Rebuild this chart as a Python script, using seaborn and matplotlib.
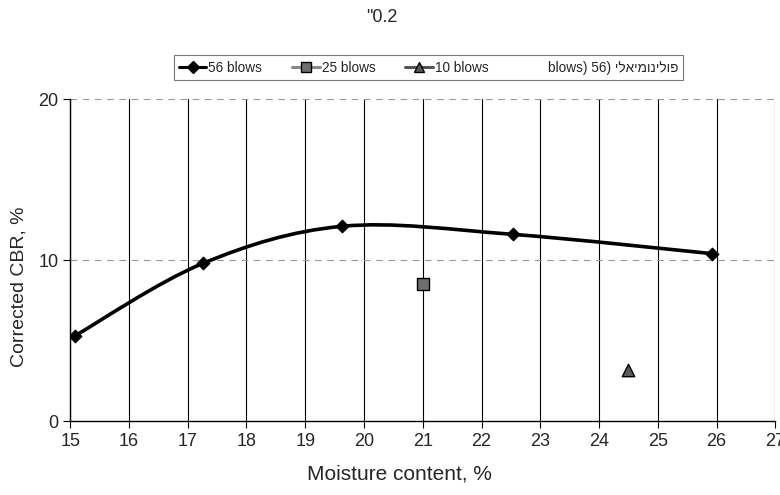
import numpy as np
import seaborn as sns
import matplotlib.pyplot as plt
import pandas as pd
from matplotlib.path import Path
from matplotlib.patches import PathPatch
from matplotlib.lines import Line2D

# data
moisture_56 = [15.08, 17.26, 19.63, 22.53, 25.93]
cbr_56 = [5.3, 9.8, 12.1, 11.6, 10.4]
moisture_25 = [21.0]
cbr_25 = [8.5]
moisture_10 = [24.5]
cbr_10 = [3.2]

x_ticks = list(range(15, 28))
y_ticks = [0, 10, 20]

sns.set_style("white")
plt.rcParams['font.family'] = ['Liberation Sans', 'DejaVu Sans']

fig, ax = plt.subplots(figsize=(7.8, 4.95), dpi=100)
fig.subplots_adjust(left=0.09, right=0.994, top=0.8, bottom=0.149)


def smooth_path(xs, ys):
    # Excel style smoothed line: cubic bezier through the points
    pts = np.column_stack([xs, ys])
    n = len(pts)
    verts = [pts[0]]
    codes = [Path.MOVETO]
    for i in range(n - 1):
        p0 = pts[max(i - 1, 0)]
        p1 = pts[i]
        p2 = pts[i + 1]
        p3 = pts[min(i + 2, n - 1)]
        c1 = p1 + (p2 - p0) / 6
        c2 = p2 - (p3 - p1) / 6
        verts += [c1, c2, p2]
        codes += [Path.CURVE4] * 3
    return Path(verts, codes)


ax.add_patch(PathPatch(smooth_path(moisture_56, cbr_56), facecolor='none',
                       edgecolor='black', lw=2.6, zorder=3))

df56 = pd.DataFrame({'x': moisture_56, 'y': cbr_56})
sns.scatterplot(data=df56, x='x', y='y', ax=ax, marker='D', s=45,
                color='black', edgecolor='black', zorder=4)
sns.scatterplot(x=moisture_25, y=cbr_25, ax=ax, marker='s', s=70,
                color='#6e6e6e', edgecolor='black', linewidth=1, zorder=4)
sns.scatterplot(x=moisture_10, y=cbr_10, ax=ax, marker='^', s=80,
                color='#5a5a5a', edgecolor='black', linewidth=1, zorder=4)

ax.set_xlim(15, 27)
ax.set_ylim(0, 20)
ax.set_xticks(x_ticks)
ax.set_yticks(y_ticks)
ax.tick_params(axis='both', labelsize=13, length=5, width=0.8,
               direction='out', color='black', bottom=True, left=True)

for xv in x_ticks:
    ax.axvline(xv, color='black', lw=0.8, zorder=1)
for yv in y_ticks[1:]:
    ax.axhline(yv, color='#999999', lw=0.8, ls=(0, (6, 5)), zorder=1)

for side in ['top', 'right']:
    ax.spines[side].set_visible(False)
for side in ['left', 'bottom']:
    ax.spines[side].set_color('black')
    ax.spines[side].set_linewidth(1)

ax.set_xlabel('Moisture content, %', fontsize=15)
ax.xaxis.set_label_coords(0.467, -0.135)
ax.set_ylabel('Corrected CBR, %', fontsize=14)
ax.yaxis.set_label_coords(-0.06, 0.416)
fig.text(0.49, 1 - 18 / 495, '"0.2', fontsize=13, ha='center', va='center')

handles = [
    Line2D([], [], color='black', lw=2.2, marker='D', markersize=6),
    Line2D([], [], color='#888888', lw=2.2, marker='s', markersize=7,
           markerfacecolor='#6e6e6e', markeredgecolor='black'),
    Line2D([], [], color='#555555', lw=2.2, marker='^', markersize=7,
           markerfacecolor='#5a5a5a', markeredgecolor='black'),
    Line2D([], [], color='none'),
]
# Hebrew part written in visual order, as it shows in the original
labels = ['56 blows', '25 blows', '10 blows',
          'blows) 56) ' + 'פולינומיאלי'[::-1]]
leg = fig.legend(handles, labels, loc='center',
                 bbox_to_anchor=(0.214, 0.828, 0.671, 0.071), mode='expand',
                 ncol=4, fontsize=9.8, frameon=True, fancybox=False,
                 handlelength=2.0, handletextpad=0.15, borderpad=0.4,
                 columnspacing=0.3)
leg.get_frame().set_edgecolor('#555555')
leg.get_frame().set_linewidth(0.8)

fig.savefig('out.png', dpi=100)
